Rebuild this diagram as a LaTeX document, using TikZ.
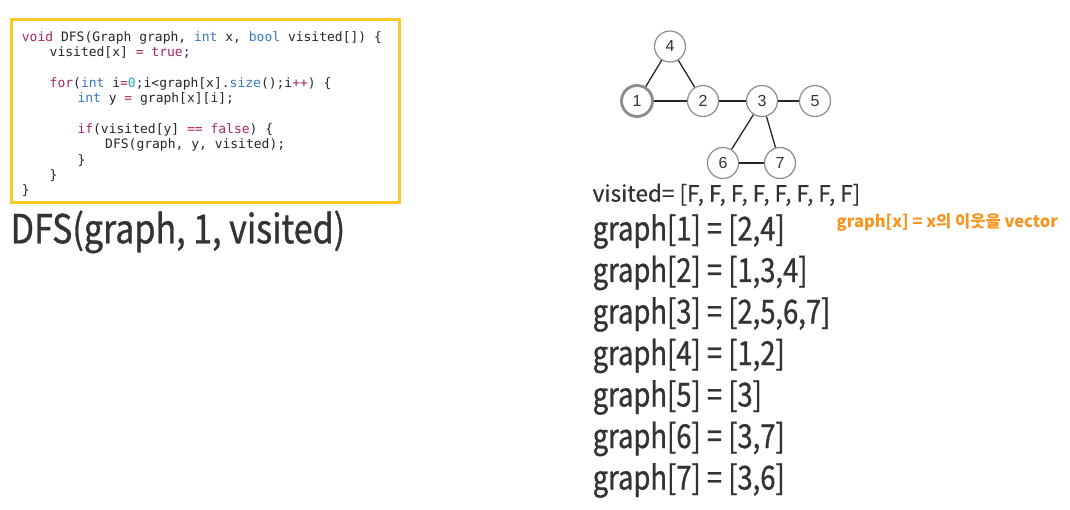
\documentclass[tikz,border=0pt]{standalone}
\usepackage{fontspec}
\setmainfont{Noto Sans CJK KR}
\newfontfamily\codefont{DejaVu Sans Mono}
\newfontfamily\numfont{Liberation Sans}
\newfontfamily\bigfont{Noto Sans CJK KR}[FakeStretch=0.83,FakeBold=0.8]
\newfontfamily\callfont{Noto Sans CJK KR}[FakeStretch=0.85,FakeBold=0.8]
\newfontfamily\visfont{Noto Sans CJK KR}[FakeBold=0.5]
\definecolor{kwc}{RGB}{166,38,94}
\definecolor{tyc}{RGB}{52,120,196}
\definecolor{nmc}{RGB}{40,170,200}
\definecolor{boxc}{RGB}{250,200,40}
\definecolor{txtc}{RGB}{51,51,51}
\definecolor{orc}{RGB}{247,148,29}
\definecolor{ndc}{RGB}{140,140,140}
\newcommand\kw[1]{\textcolor{kwc}{#1}}
\newcommand\ty[1]{\textcolor{tyc}{#1}}
\newcommand\nm[1]{\textcolor{nmc}{#1}}
\begin{document}
\begin{tikzpicture}[x=1pt,y=-1pt,
  code/.style={anchor=base west,inner sep=0pt,font=\codefont\fontsize{13}{15}\selectfont,text=black!85},
  big/.style={anchor=base west,inner sep=0pt,font=\bigfont\fontsize{33}{38}\selectfont,text=txtc},
  vnode/.style={circle,draw=ndc,line width=1.2pt,minimum size=31pt,inner sep=0pt,fill=white,font=\numfont\fontsize{16}{18}\selectfont,text=txtc},
  edge/.style={line width=1.3pt,black!85}]
\useasboundingbox (0,0) rectangle (1070,510);
% code box
\node[draw=boxc,line width=2.6pt,minimum width=388pt,minimum height=183pt,inner sep=0pt,anchor=north west] (box) at (10,18.5) {};
\node[code] (c1) at (21.7,41.7) {\kw{void} DFS(Graph graph, \ty{int} x, \ty{bool} visited[]) \{};
\node[code] (c2) at (49.5,57) {visited[x] \kw{= true};};
\node[code] (c4) at (49.5,87.6) {\kw{for}(\ty{int} i\kw{=}\nm{0};i<graph[x].\ty{size}();i\kw{++}) \{};
\node[code] (c5) at (77.3,102.9) {\ty{int} y \kw{=} graph[x][i];};
\node[code] (c7) at (77.3,133.5) {\kw{if}(visited[y] \kw{== false}) \{};
\node[code] (c8) at (105,148.8) {DFS(graph, y, visited);};
\node[code] (c9) at (77.3,164.1) {\}};
\node[code] (c10) at (49.5,179.4) {\}};
\node[code] (c11) at (21.7,194.7) {\}};
% call
\node[anchor=base west,inner sep=0pt,font=\callfont\fontsize{40}{44}\selectfont,text=txtc] (call) at (10.5,243.3) {DFS(graph, 1, visited)};
% graph
\node[vnode] (n4) at (670,46.5) {4};
\node[vnode,line width=2.8pt] (n1) at (637,101) {1};
\node[vnode] (n2) at (703,101) {2};
\node[vnode] (n3) at (762,101) {3};
\node[vnode] (n5) at (815,101) {5};
\node[vnode] (n6) at (723,163) {6};
\node[vnode] (n7) at (780,163) {7};
\draw[edge] (n1) -- (n4);
\draw[edge] (n4) -- (n2);
\draw[edge] (n1) -- (n2);
\draw[edge] (n2) -- (n3);
\draw[edge] (n3) -- (n5);
\draw[edge] (n3) -- (n6);
\draw[edge] (n3) -- (n7);
\draw[edge] (n6) -- (n7);
% lists
\node[anchor=base west,inner sep=0pt,font=\visfont\fontsize{22.5}{26}\selectfont,text=txtc] (vis) at (592.5,201.7) {visited= [F, F, F, F, F, F, F, F]};
\node[big] (g1) at (592.5,240.5) {graph[1] = [2,4]};
\node[big] (g2) at (592.5,282) {graph[2] = [1,3,4]};
\node[big] (g3) at (592.5,323.5) {graph[3] = [2,5,6,7]};
\node[big] (g4) at (592.5,365) {graph[4] = [1,2]};
\node[big] (g5) at (592.5,406.5) {graph[5] = [3]};
\node[big] (g6) at (592.5,448) {graph[6] = [3,7]};
\node[big] (g7) at (592.5,489.5) {graph[7] = [3,6]};
\node[anchor=base west,inner sep=0pt,font=\bfseries\fontsize{16.5}{19}\selectfont,text=orc] (note) at (836.5,228) {graph[x] = x의 이웃을 vector};
\end{tikzpicture}
\end{document}
